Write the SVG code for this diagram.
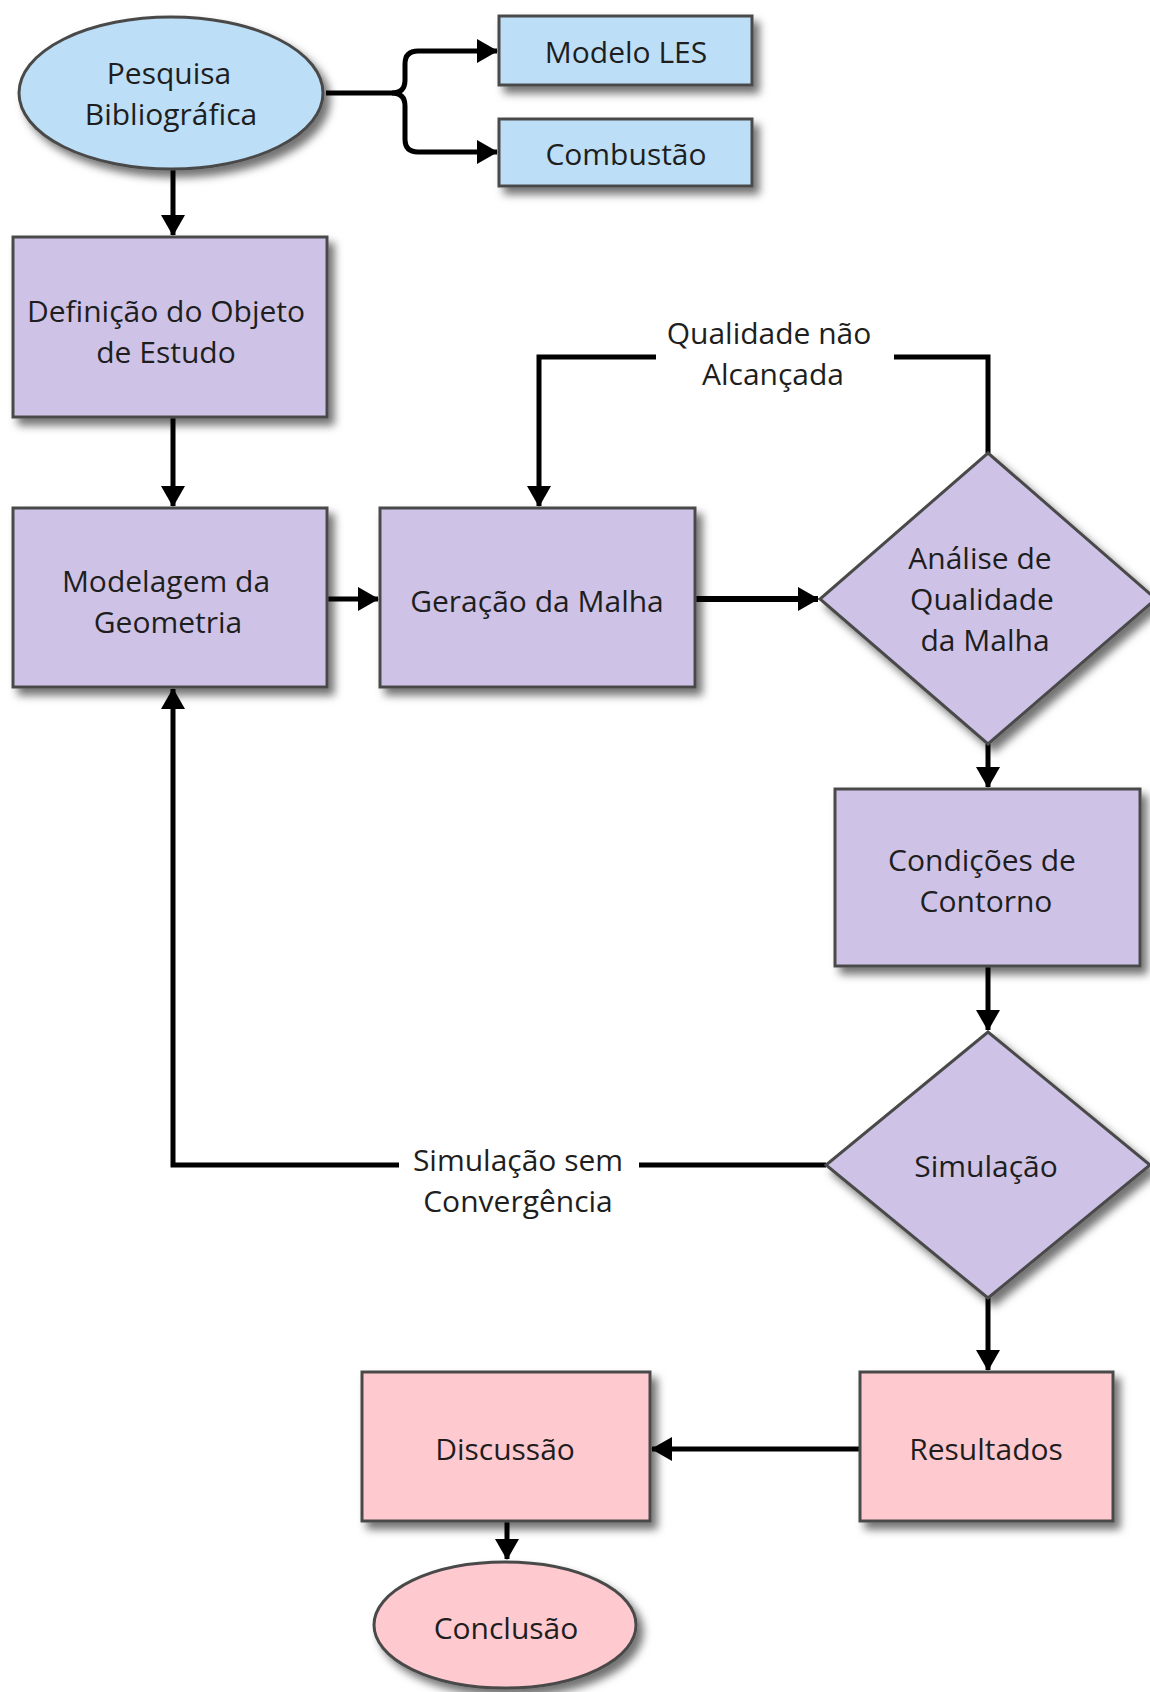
<svg xmlns="http://www.w3.org/2000/svg" width="1150" height="1692" viewBox="0 0 1150 1692">
<style>
.node{stroke:#4a4a4a;stroke-width:3;filter:url(#sh)}
.blue{fill:#bddef7}
.purple{fill:#cec3e7}
.pink{fill:#ffc9d0}
text{font-family:"Open Sans","Noto Sans",sans-serif;font-size:30px;fill:#1e1e1e;text-anchor:middle}
.c{fill:none;stroke:#000;stroke-width:5}
</style>
<defs>
<filter id="sh" x="-20%" y="-20%" width="150%" height="150%">
<feDropShadow dx="6" dy="7" stdDeviation="4" flood-color="#000" flood-opacity="0.55"/>
</filter>
<marker id="ah" markerUnits="userSpaceOnUse" markerWidth="22" markerHeight="24" refX="20" refY="12" orient="auto">
<path d="M0,0 L21,12 L0,24 Z" fill="#000"/>
</marker>
</defs>
<rect width="1150" height="1692" fill="#fff"/>

<g id="connectors">
<path class="c" d="M173,169 V235" marker-end="url(#ah)"/>
<path class="c" d="M326,93 H392 Q405,93 405,80 V64 Q405,51 418,51 H497" marker-end="url(#ah)"/>
<path class="c" d="M392,93 Q405,93 405,106 V139 Q405,152 418,152 H497" marker-end="url(#ah)"/>
<path class="c" d="M173,417 V506" marker-end="url(#ah)"/>
<path class="c" d="M327,599 H378" marker-end="url(#ah)"/>
<path class="c" style="stroke-width:6" d="M695,599 H818" marker-end="url(#ah)"/>
<path class="c" d="M988,453 V357 H894"/>
<path class="c" d="M656,357 H539 V506" marker-end="url(#ah)"/>
<path class="c" d="M988,744 V787" marker-end="url(#ah)"/>
<path class="c" d="M988,966 V1030" marker-end="url(#ah)"/>
<path class="c" d="M826,1165 H639"/>
<path class="c" d="M399,1165 H173 V689" marker-end="url(#ah)"/>
<path class="c" d="M988,1298 V1370" marker-end="url(#ah)"/>
<path class="c" d="M860,1449 H652" marker-end="url(#ah)"/>
<path class="c" d="M507,1521 V1559" marker-end="url(#ah)"/>
<text><tspan x="769" y="344">Qualidade não</tspan><tspan x="773" y="385">Alcançada</tspan></text>
<text><tspan x="518" y="1171">Simulação sem</tspan><tspan x="518" y="1212">Convergência</tspan></text>
</g>

<g id="pesquisa">
<ellipse class="node blue" cx="171" cy="93" rx="152" ry="76"/>
<text><tspan x="169" y="84">Pesquisa</tspan><tspan x="171" y="125">Bibliográfica</tspan></text>
</g>
<g id="modelo-les">
<rect class="node blue" x="499" y="16" width="253" height="69"/>
<text x="626" y="63">Modelo LES</text>
</g>
<g id="combustao">
<rect class="node blue" x="499" y="119" width="253" height="67"/>
<text x="626" y="165">Combustão</text>
</g>
<g id="definicao">
<rect class="node purple" x="13" y="237" width="314" height="180"/>
<text><tspan x="166" y="322">Definição do Objeto</tspan><tspan x="166" y="363">de Estudo</tspan></text>
</g>
<g id="modelagem">
<rect class="node purple" x="13" y="508" width="314" height="179"/>
<text><tspan x="166" y="592">Modelagem da</tspan><tspan x="168" y="633">Geometria</tspan></text>
</g>
<g id="geracao">
<rect class="node purple" x="380" y="508" width="315" height="179"/>
<text x="537" y="612">Geração da Malha</text>
</g>
<g id="analise">
<polygon class="node purple" points="988,453 1156,599 988,744 820,599"/>
<text><tspan x="980" y="569">Análise de</tspan><tspan x="982" y="610">Qualidade</tspan><tspan x="985" y="651">da Malha</tspan></text>
</g>
<g id="condicoes">
<rect class="node purple" x="835" y="789" width="305" height="177"/>
<text><tspan x="982" y="871">Condições de</tspan><tspan x="986" y="912">Contorno</tspan></text>
</g>
<g id="simulacao">
<polygon class="node purple" points="988,1032 1150,1165 988,1298 826,1165"/>
<text x="986" y="1177">Simulação</text>
</g>
<g id="resultados">
<rect class="node pink" x="860" y="1372" width="253" height="149"/>
<text x="986" y="1460">Resultados</text>
</g>
<g id="discussao">
<rect class="node pink" x="362" y="1372" width="288" height="149"/>
<text x="505" y="1460">Discussão</text>
</g>
<g id="conclusao">
<ellipse class="node pink" cx="505" cy="1625" rx="131" ry="63"/>
<text x="506" y="1639">Conclusão</text>
</g>
</svg>
